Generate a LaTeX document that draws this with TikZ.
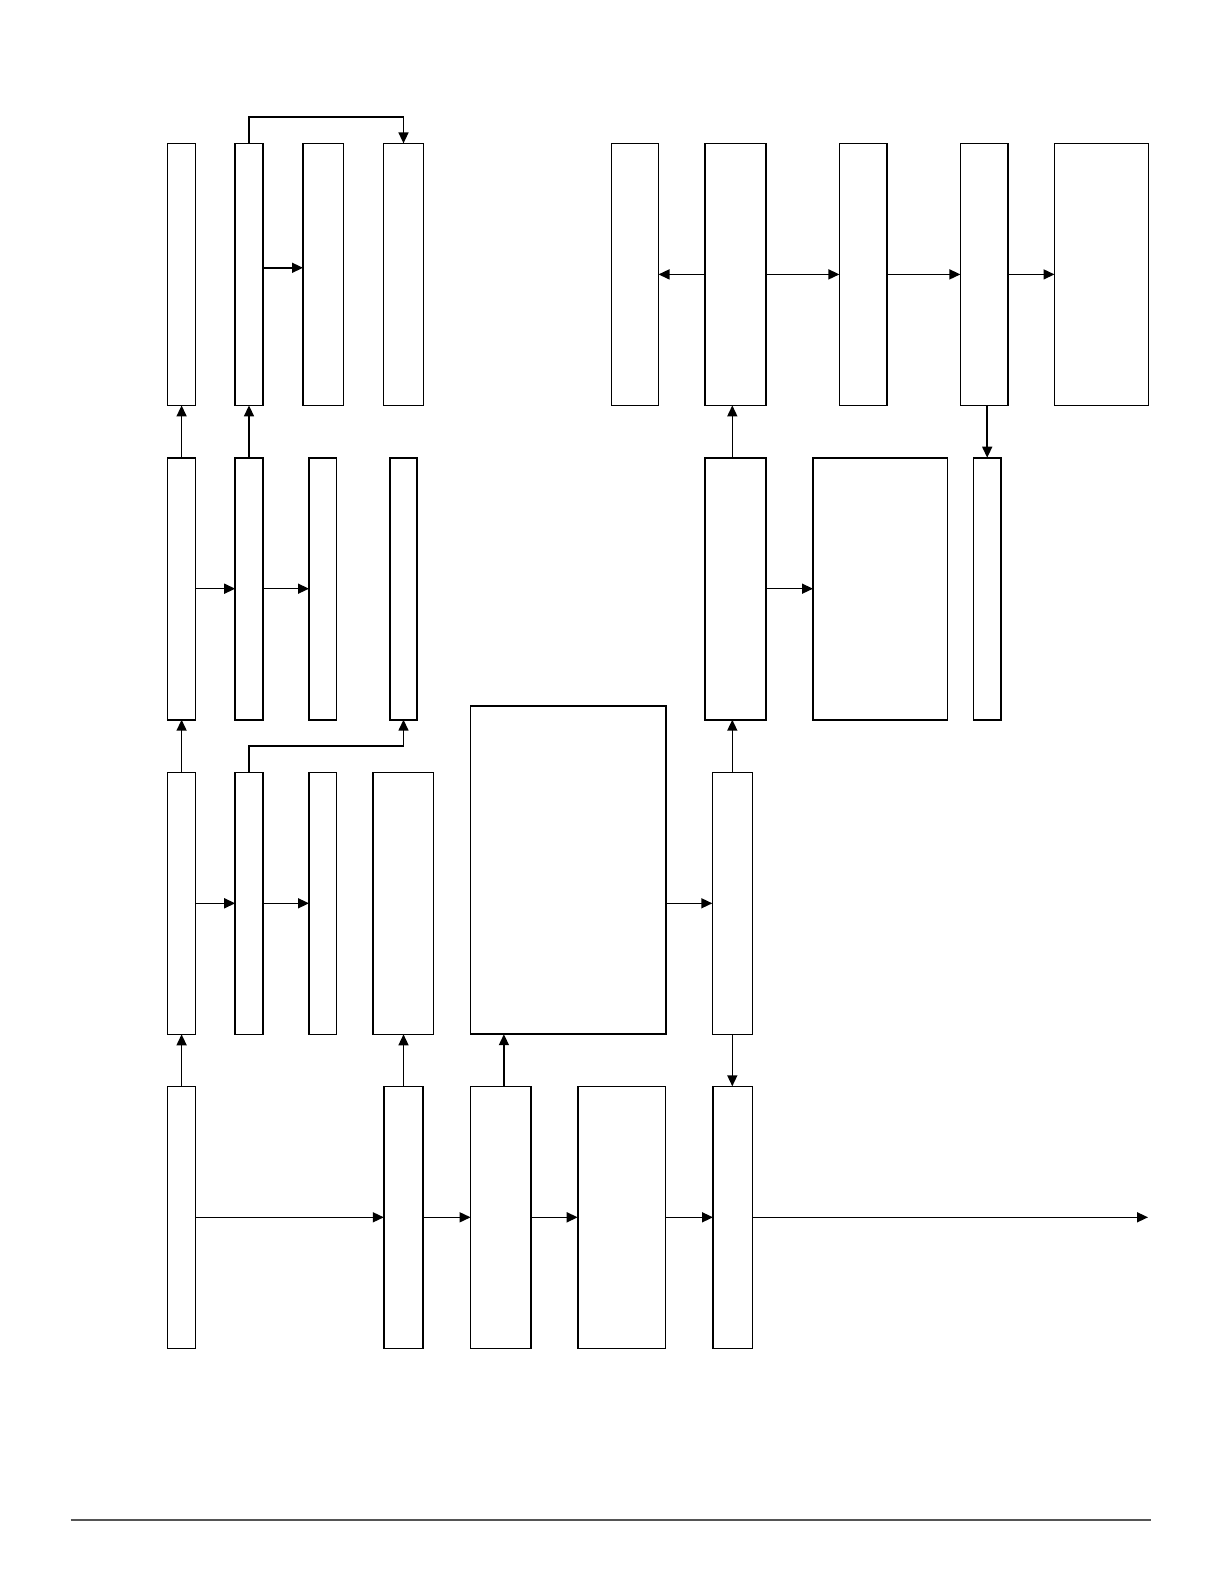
\documentclass[tikz,border=0pt]{standalone}
\usepackage{xcolor}
\usepackage{tikz}
\usetikzlibrary{arrows.meta, calc}
\definecolor{rulegray}{RGB}{85,85,85}

\begin{document}
\begin{tikzpicture}[x=0.5pt, y=-0.5pt,
  blk/.style={draw, line width=0.8pt, inner sep=0pt, outer sep=0pt, minimum height=131pt},
  tall/.style={blk, minimum height=164pt},
  arr/.style={-{Triangle[length=5.5pt, width=5pt]}, line width=0.75pt}]
  \useasboundingbox (0,0) rectangle (1224,1584);
  % row 1
  \node[blk, minimum width=14pt] (A1) at (181.6,274.4) {};
  \node[blk, minimum width=13.8pt] (A2) at (249,274.4) {};
  \node[blk, minimum width=20.2pt] (A3) at (323.2,274.4) {};
  \node[blk, minimum width=20pt] (A4) at (403.5,274.4) {};
  \node[blk, minimum width=23.5pt] (R1) at (635,274.4) {};
  \node[blk, minimum width=30.4pt] (R2) at (735.6,274.4) {};
  \node[blk, minimum width=23.8pt] (R3) at (863.2,274.4) {};
  \node[blk, minimum width=23.9pt] (R4) at (984.3,274.4) {};
  \node[blk, minimum width=47pt] (R5) at (1101.5,274.4) {};
  % row 2
  \node[blk, minimum width=14pt] (B1) at (181.6,588.7) {};
  \node[blk, minimum width=13.8pt] (B2) at (249,588.7) {};
  \node[blk, minimum width=13.7pt] (B3) at (322.7,588.7) {};
  \node[blk, minimum width=13.7pt, line width=1.1pt] (B4) at (403.5,588.7) {};
  \node[blk, minimum width=30.4pt] (RB1) at (735.6,588.7) {};
  \node[blk, minimum width=67.2pt] (RB2) at (880.2,588.7) {};
  \node[blk, minimum width=13.7pt] (RB3) at (987.2,588.7) {};
  % row 3
  \node[blk, minimum width=14pt] (C1) at (181.6,903.3) {};
  \node[blk, minimum width=13.8pt] (C2) at (249,903.3) {};
  \node[blk, minimum width=13.7pt] (C3) at (322.7,903.3) {};
  \node[blk, minimum width=30.3pt] (C4) at (403,903.3) {};
  \node[tall, minimum width=97.7pt] (big) at (568,870.2) {};
  \node[blk, minimum width=20pt] (C5) at (732.3,903.3) {};
  % row 4
  \node[blk, minimum width=14pt] (D1) at (181.6,1217.3) {};
  \node[blk, minimum width=19.7pt] (D2) at (403.5,1217.3) {};
  \node[blk, minimum width=30.3pt] (D3) at (500.9,1217.3) {};
  \node[blk, minimum width=43.9pt] (D4) at (621.6,1217.3) {};
  \node[blk, minimum width=19.7pt] (D5) at (732.7,1217.3) {};
  \coordinate (out) at (1148,1217.3);

  % horizontal flow
  \draw[arr] ([yshift=3.3pt]A2.east) -- ([yshift=3.3pt]A3.west);
  \draw[arr] (R2.west) -- (R1.east);
  \draw[arr] (R2.east) -- (R3.west);
  \draw[arr] (R3.east) -- (R4.west);
  \draw[arr] (R4.east) -- (R5.west);
  \draw[arr] (B1.east) -- (B2.west);
  \draw[arr] (B2.east) -- (B3.west);
  \draw[arr] (RB1.east) -- (RB2.west);
  \draw[arr] (C1.east) -- (C2.west);
  \draw[arr] (C2.east) -- (C3.west);
  \draw[arr] (big.east |- C5.west) -- (C5.west);
  \draw[arr] (D1.east) -- (D2.west);
  \draw[arr] (D2.east) -- (D3.west);
  \draw[arr] (D3.east) -- (D4.west);
  \draw[arr] (D4.east) -- (D5.west);
  \draw[arr] (D5.east) -- (out);

  % vertical flow
  \draw[arr] (D1.north) -- (C1.south);
  \draw[arr] (C1.north) -- (B1.south);
  \draw[arr] (B1.north) -- (A1.south);
  \draw[arr] (B2.north) -- (A2.south);
  \draw[arr] (D2.north) -- (D2.north |- C4.south);
  \draw[arr] ([xshift=1.5pt]D3.north) -- ([xshift=1.5pt]D3.north |- big.south);
  \draw[arr] (C5.north) -- (C5.north |- RB1.south);
  \draw[arr] (RB1.north -| C5.north) -- (R2.south -| C5.north);
  \draw[arr] (C5.south) -- (C5.south |- D5.north);
  \draw[arr] (R4.south -| RB3.north) -- (RB3.north);
  \draw[arr] (C2.north) -- ++(0,-26.5) -| (B4.south);
  \draw[arr] (A2.north) -- ++(0,-26.2) -| (A4.north);

  % page rule
  \draw[rulegray, line width=0.6pt] (70.7,1520) -- (1151,1520);
\end{tikzpicture}
\end{document}
